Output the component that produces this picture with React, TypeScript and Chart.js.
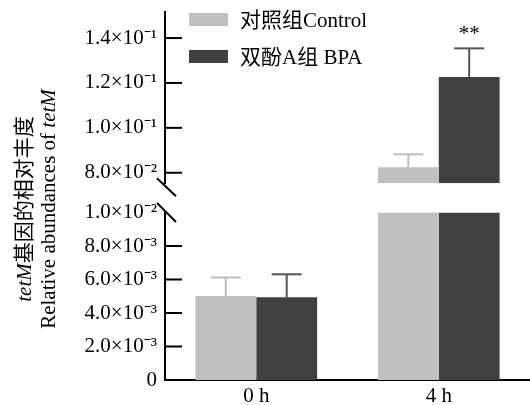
import React, { useEffect, useRef } from 'react';
import { Chart, registerables } from 'chart.js';

Chart.register(...registerables);

// ---------- data ----------
const categories = ['0 h', '4 h'];
const seriesNames = ['对照组Control', '双酚A组 BPA'];
const controlValues = [0.00502, 0.0824];
const controlErrors = [0.0011, 0.0058];
const bpaValues = [0.00494, 0.1227];
const bpaErrors = [0.00137, 0.0127];
const bpaSignificance = ['', '**'];

const lowerRange = [0, 0.01];
const upperRange = [0.0753, 0.1516];
const lowerTicks = [0, 0.002, 0.004, 0.006, 0.008, 0.01];
const lowerTickLabels = ['0', '2.0×10⁻³', '4.0×10⁻³', '6.0×10⁻³', '8.0×10⁻³', '1.0×10⁻²'];
const upperTicks = [0.08, 0.1, 0.12, 0.14];
const upperTickLabels = ['8.0×10⁻²', '1.0×10⁻¹', '1.2×10⁻¹', '1.4×10⁻¹'];

const titleLine1 = [
  { text: 'tetM', italic: true },
  { text: '基因的相对丰度', italic: false },
];
const titleLine2 = [
  { text: 'Relative abundances of ', italic: false },
  { text: 'tetM', italic: true },
];

// ---------- styles ----------
const FONT = '"Liberation Serif", "Times New Roman", "Noto Sans CJK SC", serif';
const FS = 21;
const controlColor = '#c0c0c0';
const bpaColor = '#404040';
const controlErrColor = '#bdbdbd';
const bpaErrColor = '#555555';

const overlayPlugin = {
  id: 'overlay',
  afterDatasetsDraw(chart: any) {
    const ctx: CanvasRenderingContext2D = chart.ctx;
    const low = chart.scales.yLow;
    const high = chart.scales.yHigh;
    const left = chart.chartArea.left;
    const top = chart.chartArea.top;
    const line = (x1: number, y1: number, x2: number, y2: number) => {
      ctx.beginPath();
      ctx.moveTo(x1, y1);
      ctx.lineTo(x2, y2);
      ctx.stroke();
    };
    ctx.save();
    // inward tick marks
    ctx.strokeStyle = '#000';
    ctx.lineWidth = 2;
    ([[low, lowerTicks], [high, upperTicks]] as any[]).forEach(([sc, tv]) => {
      tv.forEach((v: number) => {
        if (v <= sc.min || v >= sc.max) return;
        const y = sc.getPixelForValue(v);
        line(left, y, left + 17, y);
      });
    });
    // break slashes
    const ub = high.bottom;
    const lt = low.top;
    line(left - 8, ub - 5, left + 11, ub + 13);
    line(left - 8, lt - 9.5, left + 11, lt + 9.5);

    // error bars
    const series = [
      { values: controlValues, errors: controlErrors, color: controlErrColor, ds: 0, sig: null as any },
      { values: bpaValues, errors: bpaErrors, color: bpaErrColor, ds: 1, sig: bpaSignificance },
    ];
    series.forEach((s) => {
      const meta = chart.getDatasetMeta(s.ds);
      s.values.forEach((v, i) => {
        const el = meta.data[i];
        if (!el) return;
        const x = el.x;
        const t = v + s.errors[i];
        const sc = v > lowerRange[1] ? high : low;
        const y0 = sc.getPixelForValue(v);
        const y1 = sc.getPixelForValue(t);
        ctx.strokeStyle = s.color;
        ctx.lineWidth = 2;
        line(x, y0, x, y1);
        line(x - 15, y1, x + 15, y1);
        if (s.sig && s.sig[i]) {
          ctx.fillStyle = '#000';
          ctx.font = `${FS}px ${FONT}`;
          ctx.textAlign = 'center';
          ctx.textBaseline = 'alphabetic';
          ctx.fillText(s.sig[i], x, y1 - 8);
        }
      });
    });

    // legend
    const colors = [controlColor, bpaColor];
    seriesNames.forEach((name, i) => {
      const by = top + 1 + i * 37;
      ctx.fillStyle = colors[i];
      ctx.fillRect(left + 24, by, 39, 13);
      ctx.fillStyle = '#000';
      ctx.font = `${FS}px ${FONT}`;
      ctx.textAlign = 'left';
      ctx.textBaseline = 'middle';
      ctx.fillText(name, left + 75, by + 8);
    });

    // y-axis title (two lines, mixed italic)
    const drawRot = (parts: { text: string; italic: boolean }[], x: number, cy: number) => {
      ctx.save();
      ctx.translate(x, cy);
      ctx.rotate(-Math.PI / 2);
      ctx.fillStyle = '#000';
      ctx.textBaseline = 'alphabetic';
      ctx.textAlign = 'left';
      let total = 0;
      const widths = parts.map((p) => {
        ctx.font = `${p.italic ? 'italic ' : ''}${FS}px ${FONT}`;
        const w = ctx.measureText(p.text).width;
        total += w;
        return w;
      });
      let cx = -total / 2;
      parts.forEach((p, k) => {
        ctx.font = `${p.italic ? 'italic ' : ''}${FS}px ${FONT}`;
        ctx.fillText(p.text, cx, 0);
        cx += widths[k];
      });
      ctx.restore();
    };
    drawRot(titleLine1, 31, 209);
    drawRot(titleLine2, 55, 209);
    ctx.restore();
  },
};

export default function App() {
  const ref = useRef<HTMLCanvasElement | null>(null);
  useEffect(() => {
    document.body.style.margin = '0';
    const canvas = ref.current;
    if (!canvas) return;
    const tickFont = { family: FONT, size: FS };
    const fitY = (scale: any) => {
      scale.width = 165;
      scale.paddingTop = 0;
      scale.paddingBottom = 0;
    };
    const yCommon = (range: number[], ticks: number[], labels: string[], weight: number) => ({
      type: 'linear' as const,
      position: 'left' as const,
      stack: 'v',
      stackWeight: weight,
      stacked: false,
      min: range[0],
      max: range[1],
      grid: { display: false, drawTicks: false },
      border: { display: true, color: '#000', width: 2 },
      ticks: {
        color: '#000',
        font: tickFont,
        padding: 8,
        autoSkip: false,
        callback: (_v: any, idx: number) => labels[idx],
      },
      afterBuildTicks: (scale: any) => {
        scale.ticks = ticks.map((v) => ({ value: v }));
      },
      afterFit: fitY,
    });
    const chart = new Chart(canvas, {
      type: 'bar',
      data: {
        labels: categories,
        datasets: [
          {
            label: seriesNames[0],
            data: controlValues.map((v) => Math.min(v, lowerRange[1])),
            backgroundColor: controlColor,
            yAxisID: 'yLow',
            stack: 'control',
          },
          {
            label: seriesNames[1],
            data: bpaValues.map((v) => Math.min(v, lowerRange[1])),
            backgroundColor: bpaColor,
            yAxisID: 'yLow',
            stack: 'bpa',
          },
          {
            label: seriesNames[0] + ' (upper)',
            data: controlValues.map((v) => (v > upperRange[0] ? [upperRange[0], v] : null)) as any,
            backgroundColor: controlColor,
            yAxisID: 'yHigh',
            stack: 'control',
          },
          {
            label: seriesNames[1] + ' (upper)',
            data: bpaValues.map((v) => (v > upperRange[0] ? [upperRange[0], v] : null)) as any,
            backgroundColor: bpaColor,
            yAxisID: 'yHigh',
            stack: 'bpa',
          },
        ],
      },
      options: {
        responsive: false,
        animation: false,
        layout: { padding: { top: 12, right: 0, bottom: 0, left: 0 } },
        datasets: { bar: { categoryPercentage: 0.667, barPercentage: 1.0 } },
        plugins: {
          legend: { display: false },
          tooltip: { enabled: false },
          title: { display: false },
        },
        scales: {
          x: {
            type: 'category',
            grid: { display: false, drawTicks: false },
            border: { display: true, color: '#000', width: 2 },
            ticks: { color: '#000', font: tickFont, padding: 4 },
            afterFit: (scale: any) => {
              scale.height = 25;
              scale.paddingLeft = 0;
              scale.paddingRight = 0;
            },
          },
          yLow: yCommon(lowerRange, lowerTicks, lowerTickLabels, 167.5),
          yGap: {
            type: 'linear',
            position: 'left',
            stack: 'v',
            stackWeight: 29.2,
            min: 0,
            max: 1,
            grid: { display: false, drawTicks: false },
            border: { display: false },
            ticks: { display: false },
            afterFit: fitY,
          },
          yHigh: yCommon(upperRange, upperTicks, upperTickLabels, 171.3),
        } as any,
      },
      plugins: [overlayPlugin],
    });
    return () => chart.destroy();
  }, []);
  return (
    <div style={{ width: 530, height: 405 }}>
      <canvas ref={ref} width={530} height={405} />
    </div>
  );
}
